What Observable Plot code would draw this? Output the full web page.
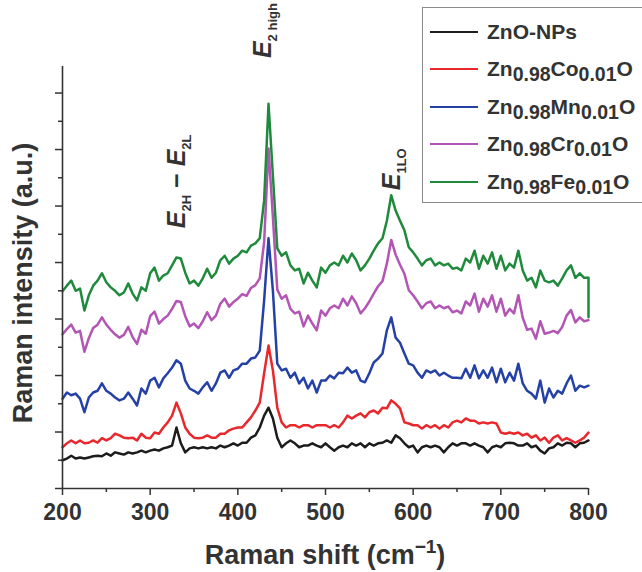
<!DOCTYPE html>
<html><head><meta charset="utf-8">
<script src="https://cdn.jsdelivr.net/npm/d3@7"></script>
<script src="https://cdn.jsdelivr.net/npm/@observablehq/plot@0.6"></script>
<style>
html,body{margin:0;padding:0;background:#fff;overflow:hidden;}
#wrap{position:relative;width:642px;height:572px;overflow:hidden;font-family:"Liberation Sans",Arial,sans-serif;}
#legend{position:absolute;left:422px;top:7px;width:240px;height:196px;border:1.5px solid #8a8a8a;background:#fff;box-sizing:border-box;}
.row{position:absolute;left:0;height:30px;display:flex;align-items:center;}
.sw{display:inline-block;width:48px;height:0;border-top:2.5px solid;margin-left:7px;margin-right:9px;}
.lab{font-weight:bold;font-size:21px;color:#333;white-space:nowrap;line-height:30px;}
.lab sub{font-size:19.5px;vertical-align:-5px;line-height:0;}
</style></head><body><div id="wrap"></div>
<script>
// Raman shift grid (cm^-1)
const shift = d3.range(200, 801, 5);

// Intensities (a.u.), one value per grid point
const znoNPs = [
 50,53,58,53,55,53,55,57,58,57,
 62,58,64,62,60,64,62,64,67,64,
 67,69,67,71,73,76,108,80,64,71,
 73,71,73,71,73,71,76,73,76,80,
 76,81,81,90,94,108,129,143,124,90,
 73,80,85,80,73,76,76,80,76,73,
 80,73,67,73,76,73,80,76,80,73,
 80,76,80,81,85,81,94,89,80,73,
 76,64,73,76,73,76,73,64,73,80,
 76,80,80,76,80,76,73,64,73,76,
 73,80,81,80,76,76,80,73,76,67,
 62,71,73,80,76,81,80,73,80,81,
 85];
const znCo = [
 73,80,85,80,85,80,81,85,81,89,
 85,89,97,94,90,89,90,85,97,90,
 89,99,97,108,117,129,152,133,108,97,
 90,89,90,94,90,90,97,97,103,106,
 108,108,117,126,138,152,204,253,209,143,
 117,108,112,112,108,112,112,108,112,112,
 112,108,112,108,117,129,124,129,133,126,
 135,138,133,143,142,156,150,142,117,115,
 112,112,106,112,108,112,106,112,108,117,
 120,117,124,120,120,115,117,115,117,115,
 99,97,99,97,99,94,97,90,94,85,
 90,81,90,94,85,89,85,81,85,90,
 99];
const znMn = [
 159,170,165,168,159,135,161,170,173,186,
 173,168,161,156,159,170,159,147,177,168,
 191,196,179,195,204,214,227,221,191,177,
 173,168,179,188,173,186,205,209,196,209,
 212,221,221,230,232,244,333,443,350,221,
 209,212,196,205,186,196,177,191,170,191,
 191,200,195,205,204,214,205,209,191,188,
 204,223,230,239,280,303,267,258,239,221,
 218,205,196,209,205,209,200,205,200,196,
 196,195,212,196,218,195,209,196,214,188,
 212,188,205,191,221,186,173,168,159,191,
 152,177,161,173,168,186,200,173,182,179,
 182];
const znCr = [
 273,282,290,276,279,242,266,284,290,303,
 290,281,273,267,272,286,268,256,281,274,
 305,313,292,300,306,318,332,330,305,287,
 292,284,296,312,298,306,327,336,322,330,
 336,344,341,355,360,372,436,602,480,352,
 336,342,318,310,313,287,306,292,280,315,
 306,319,324,319,336,324,340,328,310,319,
 331,345,358,367,398,440,414,396,380,351,
 342,331,319,328,331,319,324,319,322,312,
 315,310,331,324,345,313,336,322,342,313,
 336,306,318,310,342,302,281,283,265,296,
 274,276,279,275,286,306,316,294,303,296,
 298];
const znFe = [
 349,359,368,350,354,315,342,359,368,381,
 365,356,350,342,347,363,345,333,356,350,
 381,391,368,377,381,395,409,407,382,363,
 368,359,372,389,373,382,404,412,398,407,
 412,421,418,430,434,443,510,681,554,425,
 412,418,395,386,389,363,382,368,356,391,
 382,395,400,395,412,400,416,404,386,395,
 407,421,434,443,474,519,492,474,457,427,
 418,407,395,404,407,395,400,395,398,389,
 391,386,407,400,421,389,412,398,418,389,
 412,386,398,391,421,386,368,373,356,386,
 368,365,368,359,372,386,395,373,381,373,
 373];
const znFeEnd = 303; // final drop of the Fe trace at 800 cm^-1

const seriesNames = ["ZnO-NPs", "Zn0.98Co0.01O", "Zn0.98Mn0.01O", "Zn0.98Cr0.01O", "Zn0.98Fe0.01O"];
const seriesLabelsHTML = ["ZnO-NPs", "Zn<sub>0.98</sub>Co<sub>0.01</sub>O", "Zn<sub>0.98</sub>Mn<sub>0.01</sub>O", "Zn<sub>0.98</sub>Cr<sub>0.01</sub>O", "Zn<sub>0.98</sub>Fe<sub>0.01</sub>O"];
const seriesColors = ["#1c1c1c", "#e8282c", "#2541a6", "#b255b4", "#1f8a3c"];
const xMajor = [200, 300, 400, 500, 600, 700, 800];
const xMinor = [250, 350, 450, 550, 650, 750];
const yMajor = [0, 100, 200, 300, 400, 500, 600, 700];
const yMinor = [50, 150, 250, 350, 450, 550, 650];

// peak annotations: anchor (shift, intensity) and rich-text parts
const peakLabels = [
  {x: 340, y: 460, parts: [["E","i"],["2H","sub"],[" \u2212 ",""],["E","i"],["2L","sub"]]},
  {x: 438, y: 761, parts: [["E","i"],["2 high","sub"]]},
  {x: 586, y: 527, parts: [["E","i"],["1LO","sub"]]}
];

const allSeries = [znoNPs, znCo, znMn, znCr, znFe];
const rowsOf = (vals, i) => {
  const r = shift.map((s, k) => ({x: s, y: vals[k], name: seriesNames[i]}));
  if (i === 4) r.push({x: 800, y: znFeEnd, name: seriesNames[i]});
  return r;
};
const drawOrder = [0, 1, 3, 2, 4];
const ink = "#333";

const plot = Plot.plot({
  width: 642, height: 572,
  marginLeft: 62, marginRight: 54, marginTop: 66, marginBottom: 84,
  x: {domain: [200, 800]},
  y: {domain: [0, 747]},
  style: {fontFamily: "'Liberation Sans', Arial, sans-serif", background: "white", color: ink, overflow: "visible"},
  marks: [
    Plot.axisX({ticks: xMajor, tickSize: 7, tickPadding: 8, label: null, stroke: ink, strokeWidth: 1.5}),
    Plot.axisX({ticks: xMinor, tickSize: 4, tickFormat: () => "", label: null, stroke: ink, strokeWidth: 1.5}),
    Plot.axisY({ticks: yMajor, tickSize: 7, tickFormat: () => "", label: null, stroke: ink, strokeWidth: 1.5}),
    Plot.axisY({ticks: yMinor, tickSize: 4, tickFormat: () => "", label: null, stroke: ink, strokeWidth: 1.5}),
    ...drawOrder.map(i => Plot.line(rowsOf(allSeries[i], i), {x: "x", y: "y", stroke: seriesColors[i], strokeWidth: 2.5, strokeLinejoin: "round"})),
    Plot.ruleX([200], {stroke: ink, strokeWidth: 1.6}),
    Plot.ruleY([0], {stroke: ink, strokeWidth: 1.6})
  ]
});

const wrap = document.getElementById("wrap");
wrap.appendChild(plot);
const svg = d3.select(plot);
svg.selectAll('g[aria-label="x-axis tick label"] text')
  .attr("font-size", 23).attr("font-weight", "bold").attr("fill", ink);

const sx = plot.scale("x"), sy = plot.scale("y");

function rich(sel, parts, size, subSize, shiftDy) {
  let off = 0;
  parts.forEach(([t, kind]) => {
    const ts = sel.append("tspan").text(t);
    if (kind === "i") ts.attr("font-style", "italic").attr("font-size", size);
    if (kind === "sub") {
      ts.attr("font-size", subSize).attr("dy", shiftDy - off); off = shiftDy;
    } else {
      ts.attr("dy", -off); off = 0;
      if (kind !== "i") ts.attr("font-size", size);
    }
  });
}

peakLabels.forEach(p => {
  const t = svg.append("text")
    .attr("transform", `translate(${sx.apply(p.x)},${sy.apply(p.y)}) rotate(-90)`)
    .attr("text-anchor", "start")
    .attr("font-family", "'Liberation Sans', Arial, sans-serif")
    .attr("font-weight", "bold").attr("fill", ink).attr("font-size", 25);
  rich(t, p.parts, 25, 13, 6);
});

// axis titles
const xt = svg.append("text")
  .attr("x", sx.apply(500)).attr("y", sy.apply(0) + 76)
  .attr("text-anchor", "middle").attr("font-weight", "bold").attr("font-size", 27).attr("fill", ink);
xt.append("tspan").text("Raman shift (cm");
xt.append("tspan").text("\u22121").attr("font-size", 19).attr("dy", -11);
xt.append("tspan").text(")").attr("dy", 11);

svg.append("text")
  .attr("transform", `translate(32,${(sy.apply(0) + sy.apply(747)) / 2 + 6}) rotate(-90)`)
  .attr("text-anchor", "middle").attr("font-weight", "bold").attr("font-size", 27).attr("fill", ink)
  .text("Raman intensity (a.u.)");

// legend
const leg = document.createElement("div");
leg.id = "legend";
const centers = [25, 62.5, 100, 137.5, 175];
seriesLabelsHTML.forEach((h, i) => {
  const r = document.createElement("div");
  r.className = "row";
  r.style.top = (centers[i] - 16.5) + "px";
  r.innerHTML = `<span class="sw" style="border-color:${seriesColors[i]}"></span><span class="lab">${h}</span>`;
  leg.appendChild(r);
});
wrap.appendChild(leg);
</script></body></html>
